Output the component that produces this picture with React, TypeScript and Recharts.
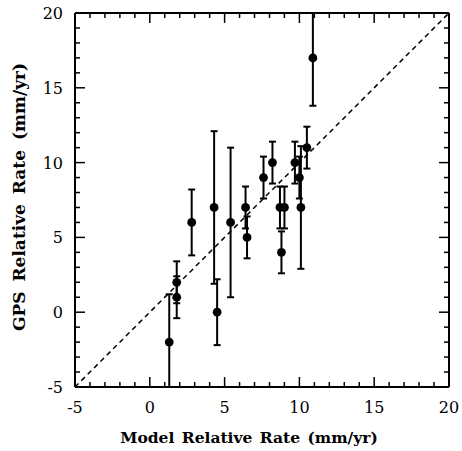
import React from 'react';
import { ScatterChart, Scatter, XAxis, YAxis, ErrorBar, ReferenceLine, Label } from 'recharts';

const modelRates = [1.3, 1.8, 1.8, 2.8, 4.3, 4.5, 5.4, 6.4, 6.5, 7.6, 8.2, 8.7, 9.0, 8.8, 9.7, 10.0, 10.1, 10.5, 10.9];
const gpsRates = [-2, 2, 1, 6, 7, 0, 6, 7, 5, 9, 10, 7, 7, 4, 10, 9, 7, 11, 17];
// [down, up] error extents
const gpsErrors: [number, number][] = [
  [3.0, 3.2], [1.4, 1.4], [1.4, 1.4], [2.2, 2.2], [5.1, 5.1], [2.2, 2.2], [5.0, 5.0], [1.4, 1.4], [1.4, 1.4],
  [1.4, 1.4], [1.4, 1.4], [1.4, 1.4], [1.4, 1.4], [1.4, 1.4], [1.4, 1.4], [1.4, 1.4], [4.1, 4.1], [1.4, 1.4], [3.2, 3.0],
];
const axisTicks = [-5, -4, -3, -2, -1, 0, 1, 2, 3, 4, 5, 6, 7, 8, 9, 10, 11, 12, 13, 14, 15, 16, 17, 18, 19, 20];
const majorStep = 5;
const xTitle = 'Model Relative Rate (mm/yr)';
const yTitle = 'GPS Relative Rate (mm/yr)';
const diagonal = [{ x: -5, y: -5 }, { x: 20, y: 20 }];
const AXIS_MIN = -5;
const AXIS_MAX = 20;

const data = modelRates.map((x, i) => ({ x, y: gpsRates[i], err: gpsErrors[i] }));

const W = 462;
const H = 451;
const MARGIN = { top: 12, right: 12, bottom: 24, left: 35 };
const PLOT_PX = 374; // plot side length in pixels (square plot)
const FONT = '"DejaVu Serif", serif';
const MAJOR = 10;
const MINOR = 5;

const isMajor = (v: number) => v % majorStep === 0;
const tickLenUnits = (v: number) => ((isMajor(v) ? MAJOR : MINOR) * (AXIS_MAX - AXIS_MIN)) / PLOT_PX;

const BottomTick = (props: any) => {
  const { x, y, payload } = props;
  const len = isMajor(payload.value) ? MAJOR : MINOR;
  return (
    <g>
      <line x1={x} x2={x} y1={y} y2={y - len} stroke="#000" strokeWidth={1.5} />
      {isMajor(payload.value) && (
        <text x={x} y={y + 26} textAnchor="middle" fontFamily={FONT} fontSize={16} fill="#000">
          {payload.value}
        </text>
      )}
    </g>
  );
};

const LeftTick = (props: any) => {
  const { x, y, payload } = props;
  const len = isMajor(payload.value) ? MAJOR : MINOR;
  return (
    <g>
      <line x1={x} x2={x + len} y1={y} y2={y} stroke="#000" strokeWidth={1.5} />
      {isMajor(payload.value) && (
        <text x={x - 12} y={y + 6} textAnchor="end" fontFamily={FONT} fontSize={16} fill="#000">
          {payload.value}
        </text>
      )}
    </g>
  );
};

const Dot = (props: any) => {
  const { cx, cy } = props;
  return <circle cx={cx} cy={cy} r={4.4} fill="#000" />;
};

export default function App() {
  return (
    <div style={{ position: 'absolute', left: 0, top: 0, width: W, height: H, background: '#fff' }}>
      <ScatterChart width={W} height={H} margin={MARGIN}>
        <XAxis
          xAxisId="b"
          dataKey="x"
          type="number"
          domain={[AXIS_MIN, AXIS_MAX]}
          ticks={axisTicks}
          interval={0}
          allowDataOverflow
          orientation="bottom"
          height={40}
          tickSize={0}
          tickMargin={0}
          tickLine={false}
          axisLine={{ stroke: '#000', strokeWidth: 2 }}
          tick={BottomTick}
        >
          <Label
            content={(p: any) => {
              const vb = p.viewBox;
              return (
                <text x={249} y={vb.y + 56} textAnchor="middle" fontFamily={FONT} fontSize={15.5} fontWeight="bold" wordSpacing={2} fill="#000">
                  {xTitle}
                </text>
              );
            }}
          />
        </XAxis>
        <XAxis
          xAxisId="t"
          type="number"
          domain={[AXIS_MIN, AXIS_MAX]}
          orientation="top"
          height={1}
          tick={false}
          tickLine={false}
          axisLine={{ stroke: '#000', strokeWidth: 2 }}
        />
        <YAxis
          yAxisId="l"
          dataKey="y"
          type="number"
          domain={[AXIS_MIN, AXIS_MAX]}
          ticks={axisTicks}
          interval={0}
          allowDataOverflow
          orientation="left"
          width={40}
          tickSize={0}
          tickMargin={0}
          tickLine={false}
          axisLine={{ stroke: '#000', strokeWidth: 2 }}
          tick={LeftTick}
        >
          <Label
            content={() => (
              <text x={0} y={0} transform="translate(25, 197) rotate(-90)" textAnchor="middle" fontFamily={FONT} fontSize={17} fontWeight="bold" wordSpacing={4} fill="#000">
                {yTitle}
              </text>
            )}
          />
        </YAxis>
        <YAxis
          yAxisId="r"
          type="number"
          domain={[AXIS_MIN, AXIS_MAX]}
          orientation="right"
          width={1}
          tick={false}
          tickLine={false}
          axisLine={{ stroke: '#000', strokeWidth: 2 }}
        />
        {axisTicks.map((v) => (
          <ReferenceLine
            key={`top-${v}`}
            xAxisId="b"
            yAxisId="l"
            segment={[{ x: v, y: AXIS_MAX }, { x: v, y: AXIS_MAX - tickLenUnits(v) }]}
            stroke="#000"
            strokeWidth={1.5}
            ifOverflow="visible"
          />
        ))}
        {axisTicks.map((v) => (
          <ReferenceLine
            key={`right-${v}`}
            xAxisId="b"
            yAxisId="l"
            segment={[{ x: AXIS_MAX, y: v }, { x: AXIS_MAX - tickLenUnits(v), y: v }]}
            stroke="#000"
            strokeWidth={1.5}
            ifOverflow="visible"
          />
        ))}
        <ReferenceLine
          xAxisId="b"
          yAxisId="l"
          segment={diagonal}
          stroke="#000"
          strokeWidth={1.5}
          strokeDasharray="5 4"
          ifOverflow="hidden"
        />
        <Scatter xAxisId="b" yAxisId="l" data={data} shape={Dot} isAnimationActive={false}>
          <ErrorBar dataKey="err" direction="y" width={3.5} stroke="#000" strokeWidth={2} isAnimationActive={false} />
        </Scatter>
      </ScatterChart>
    </div>
  );
}
